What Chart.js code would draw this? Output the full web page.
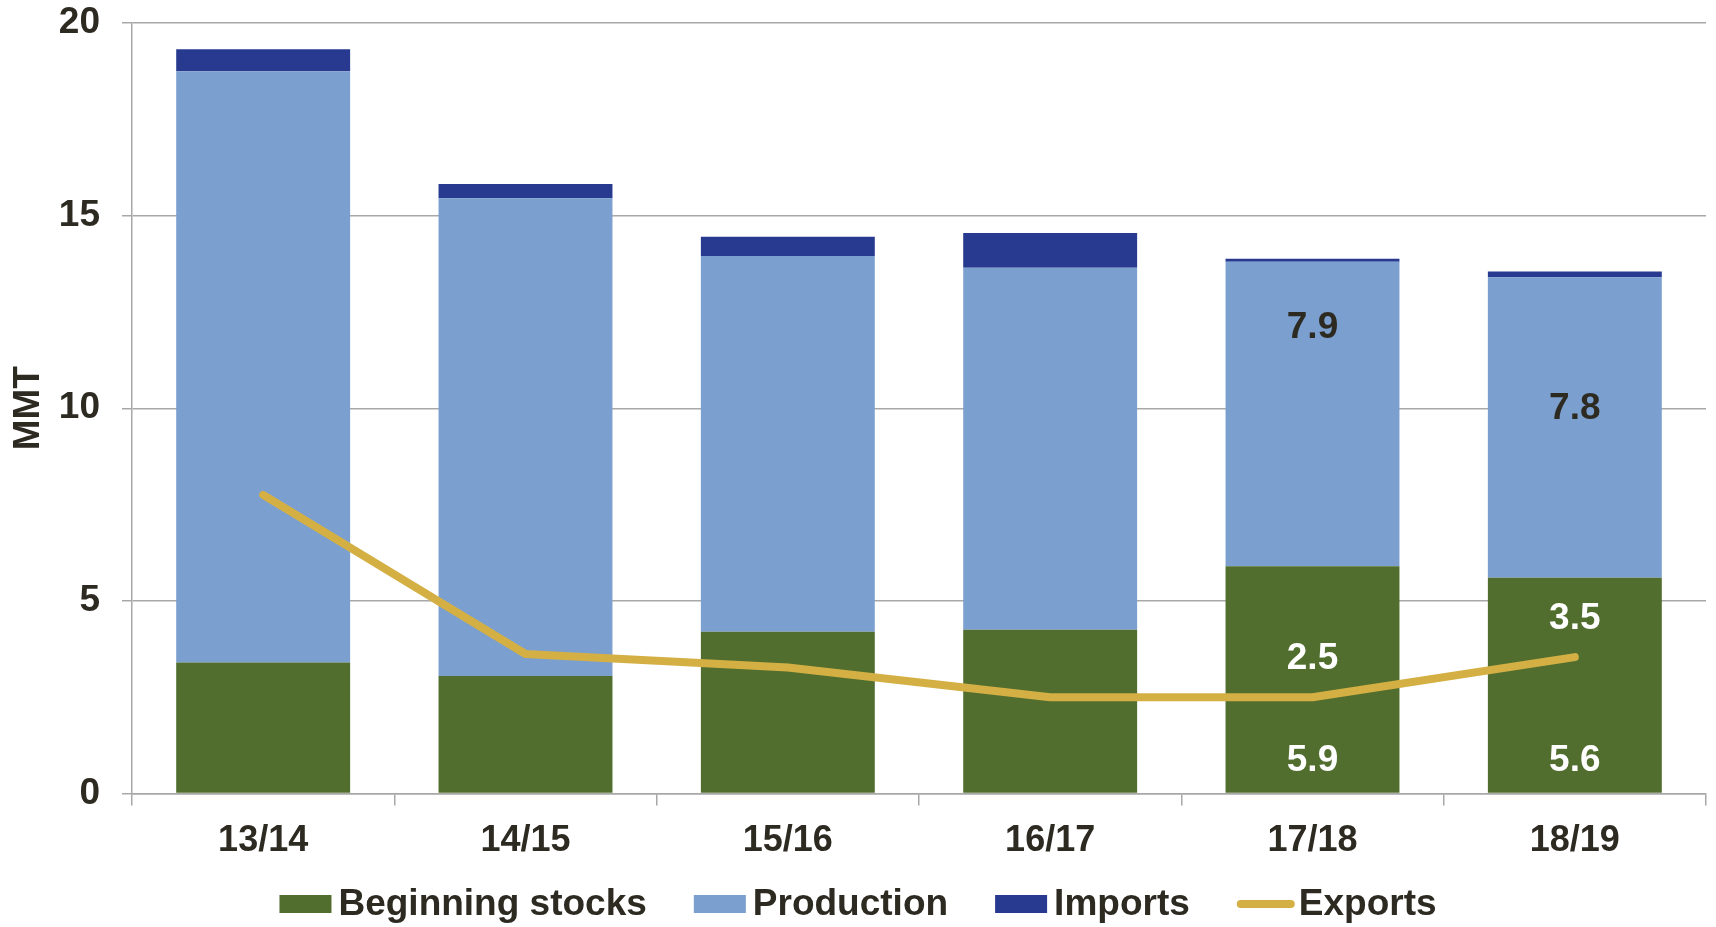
<!DOCTYPE html>
<html>
<head>
<meta charset="utf-8">
<script src="https://cdn.jsdelivr.net/npm/chart.js@4.4.1/dist/chart.umd.min.js"></script>
<style>
  html, body { margin: 0; padding: 0; background: #ffffff; }
  #wrap { width: 1716px; height: 927px; position: relative; }
</style>
</head>
<body>
<div id="wrap"><canvas id="supplyChart"></canvas></div>
<script>
// Marketing years
const years = ['13/14', '14/15', '15/16', '16/17', '17/18', '18/19'];

// Supply components, MMT
const beginningStocks = [3.4, 3.05, 4.2, 4.25, 5.9, 5.6];
const production = [15.35, 12.4, 9.75, 9.4, 7.9, 7.8];
const imports = [0.57, 0.37, 0.5, 0.9, 0.08, 0.15];
const exportsMmt = [7.75, 3.62, 3.27, 2.5, 2.5, 3.54];

// y axis ticks
const yTicks = [0, 5, 10, 15, 20];

// years that carry value labels in the picture
const labelledYears = ['17/18', '18/19'];

const TEXT = '#2d2a22';
const FONT = '"Liberation Sans", Arial, Helvetica, sans-serif';

// Value labels for the labelled years
const valueLabels = {
    id: 'valueLabels',
    afterDatasetsDraw(chart) {
        const ctx = chart.ctx;
        const y = chart.scales.y;
        // production label sits a fixed distance under the segment top (differs per bar in the original)
        const prodOffsets = [66, 132];
        ctx.save();
        ctx.font = 'bold 37px ' + FONT;
        ctx.textAlign = 'center';
        ctx.textBaseline = 'middle';
        labelledYears.forEach((yr, k) => {
            const i = years.indexOf(yr);
            const barEl = chart.getDatasetMeta(0).data[i];
            const prodEl = chart.getDatasetMeta(1).data[i];
            const lineEl = chart.getDatasetMeta(3).data[i];
            // beginning stocks, near the base
            ctx.fillStyle = '#ffffff';
            ctx.fillText(beginningStocks[i].toFixed(1), barEl.x, y.getPixelForValue(0) - 33);
            // exports, above the line point
            ctx.fillText(exportsMmt[i].toFixed(1), lineEl.x, lineEl.y - 38);
            // production
            ctx.fillStyle = TEXT;
            ctx.fillText(production[i].toFixed(1), prodEl.x, prodEl.y + prodOffsets[k]);
        });
        ctx.restore();
    }
};

// Legend row along the bottom
const bottomLegend = {
    id: 'bottomLegend',
    afterDraw(chart) {
        const ctx = chart.ctx;
        const sets = chart.data.datasets;
        const cy = 904;
        const gap = 47;
        ctx.save();
        ctx.font = 'bold 37px ' + FONT;
        ctx.textBaseline = 'middle';
        ctx.textAlign = 'left';
        const items = sets.map(ds => ({
            text: ds.label,
            color: ds.type === 'line' ? ds.borderColor : ds.backgroundColor,
            line: ds.type === 'line',
            w: ctx.measureText(ds.label).width
        }));
        const itemW = it => (it.line ? 58 + 4 : 52 + 7) + it.w;
        const total = items.reduce((s, it) => s + itemW(it), 0) + gap * (items.length - 1);
        let x = (chart.width - total) / 2;
        items.forEach(it => {
            if (it.line) {
                ctx.strokeStyle = it.color;
                ctx.lineWidth = 8;
                ctx.lineCap = 'round';
                ctx.beginPath();
                ctx.moveTo(x + 4, cy);
                ctx.lineTo(x + 54, cy);
                ctx.stroke();
                x += 62;
            } else {
                ctx.fillStyle = it.color;
                ctx.fillRect(x, cy - 9, 52, 18);
                x += 59;
            }
            ctx.fillStyle = TEXT;
            ctx.fillText(it.text, x, cy + 1);
            x += it.w + gap;
        });
        ctx.restore();
    }
};

const el = document.getElementById('supplyChart');
if (el) {
    new Chart(el, {
        data: {
            labels: years,
            datasets: [
                { type: 'bar', label: 'Beginning stocks', data: beginningStocks, backgroundColor: '#516e2f', stack: 'supply', order: 1 },
                { type: 'bar', label: 'Production', data: production, backgroundColor: '#7b9fcf', stack: 'supply', order: 1 },
                { type: 'bar', label: 'Imports', data: imports, backgroundColor: '#283a8f', stack: 'supply', order: 1 },
                {
                    type: 'line', label: 'Exports', data: exportsMmt, stack: 'exports', order: 0,
                    borderColor: '#d4b044', borderWidth: 8, pointRadius: 0, tension: 0,
                    borderCapStyle: 'round', borderJoinStyle: 'round'
                }
            ]
        },
        options: {
            responsive: true,
            maintainAspectRatio: false,
            animation: false,
            layout: { padding: { top: 23, right: 10, bottom: 60, left: 0 } },
            datasets: { bar: { categoryPercentage: 1, barPercentage: 0.663 } },
            plugins: {
                legend: { display: false },
                tooltip: { enabled: false }
            },
            scales: {
                x: {
                    stacked: true,
                    offset: true,
                    afterFit(s) { s.height = 73.5; s.paddingLeft = 0; s.paddingRight = 0; },
                    grid: { offset: true, drawOnChartArea: false, tickLength: 12, color: '#a8a8a8', lineWidth: 1.5 },
                    border: { color: '#a8a8a8', width: 1.5 },
                    ticks: { color: TEXT, padding: 14, font: { family: FONT, size: 36, weight: 'bold' } }
                },
                y: {
                    stacked: true,
                    min: 0,
                    max: 20,
                    afterFit(s) { s.width = 132; s.paddingTop = 0; s.paddingBottom = 0; },
                    afterBuildTicks(s) { s.ticks = yTicks.map(v => ({ value: v })); },
                    grid: { tickLength: 10, color: '#a8a8a8', lineWidth: 1.5 },
                    border: { color: '#a8a8a8', width: 1.5 },
                    ticks: { color: TEXT, padding: 22, font: { family: FONT, size: 37, weight: 'bold' } },
                    title: {
                        display: true, text: 'MMT', color: TEXT,
                        padding: { top: 7, bottom: 0 },
                        font: { family: FONT, size: 37, weight: 'bold' }
                    }
                }
            }
        },
        plugins: [valueLabels, bottomLegend]
    });
}
</script>
</body>
</html>
